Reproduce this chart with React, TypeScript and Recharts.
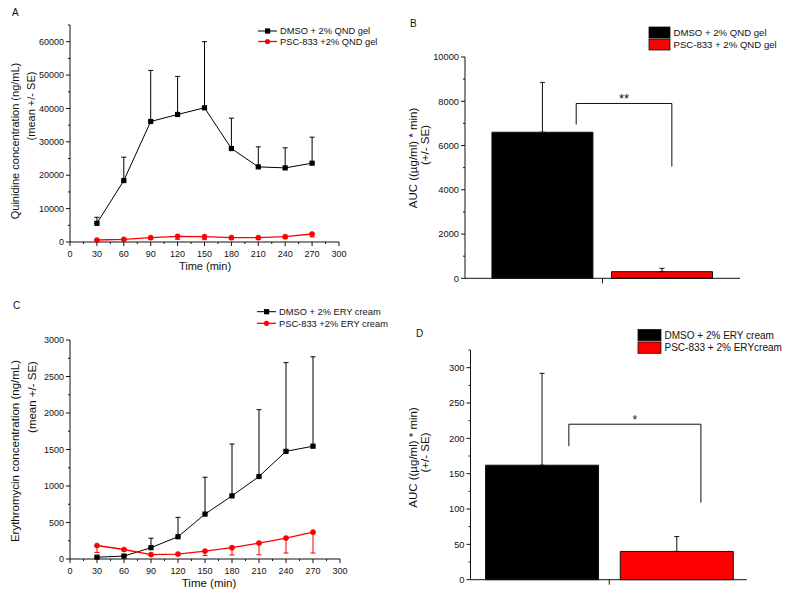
import { Bar, BarChart, Cell, ErrorBar, Label, Line, LineChart, ReferenceLine, XAxis, YAxis } from "recharts";

const FONT = "Arial, 'Liberation Sans', Helvetica, sans-serif";
const INK = "#111111";
const RED = "#ff0000";

// time-course sampling points (min)
const TIME = [30, 60, 90, 120, 150, 180, 210, 240, 270];

// A: quinidine (ng/mL), mean and SE
const QND_DMSO = [5600, 18400, 36100, 38200, 40200, 28000, 22500, 22200, 23600];
const QND_DMSO_SE = [1800, 7000, 15300, 11400, 19800, 9100, 6000, 6000, 7800];
const QND_PSC = [600, 800, 1300, 1700, 1600, 1300, 1300, 1600, 2400];
const QND_PSC_SE = [300, 300, 500, 900, 900, 500, 500, 600, 900];
const QND_LINE_NAMES = ["DMSO + 2% QND gel", "PSC-833 +2% QND gel"];

// C: erythromycin (ng/mL), mean and SE
const ERY_DMSO = [25, 40, 155, 305, 615, 865, 1130, 1475, 1545];
const ERY_DMSO_SE = [10, 10, 130, 265, 505, 710, 915, 1215, 1225];
const ERY_PSC = [185, 130, 60, 68, 108, 155, 218, 287, 368];
const ERY_PSC_SE = [95, 20, 10, 10, 62, 100, 160, 205, 286];
const ERY_LINE_NAMES = ["DMSO + 2% ERY cream", "PSC-833 +2% ERY cream"];

// B / D: AUC bars
const QND_GROUPS = ["DMSO + 2% QND gel", "PSC-833 + 2% QND gel"];
const QND_AUC = [6600, 300];
const QND_AUC_SE = [2250, 150];
const ERY_GROUPS = ["DMSO + 2% ERY cream", "PSC-833 + 2% ERYcream"];
const ERY_AUC = [162, 40];
const ERY_AUC_SE = [130, 21];
const BAR_FILLS = ["#000000", RED];

// significance brackets: x ends, top level, leg ends
const QND_SIG_X = [1.28, 2.08];
const QND_SIG_Y = [7900, 6950, 5050];
const ERY_SIG_X = [1.2, 2.18];
const ERY_SIG_Y = [220, 189, 109];

const range = (start: number, end: number, step: number) => {
  const out: number[] = [];
  for (let v = start; v <= end + 1e-9; v += step) out.push(v);
  return out;
};

const qndData = TIME.map((t, i) => ({
  t,
  dmso: QND_DMSO[i],
  dmsoErr: [0, QND_DMSO_SE[i]],
  psc: QND_PSC[i],
  pscErr: [QND_PSC_SE[i], 0],
}));
const eryData = TIME.map((t, i) => ({
  t,
  dmso: ERY_DMSO[i],
  dmsoErr: [0, ERY_DMSO_SE[i]],
  psc: ERY_PSC[i],
  pscErr: [ERY_PSC_SE[i], 0],
}));
const qndAuc = QND_GROUPS.map((name, i) => ({ name, pos: i + 1, auc: QND_AUC[i], err: [0, QND_AUC_SE[i]] }));
const eryAuc = ERY_GROUPS.map((name, i) => ({ name, pos: i + 1, auc: ERY_AUC[i], err: [0, ERY_AUC_SE[i]] }));

function timeTick({ x, y, payload }: any) {
  const major = payload.value % 30 === 0;
  return (
    <g>
      <line x1={x} x2={x} y1={y} y2={y + (major ? 4 : 2)} stroke={INK} />
      {major && (
        <text x={x} y={y + 14.5} textAnchor="middle" fontSize={9} fill={INK}>
          {payload.value}
        </text>
      )}
    </g>
  );
}

function valueTick(majorStep: number, fontSize: number) {
  return ({ x, y, payload }: any) => {
    const major = payload.value % majorStep === 0;
    return (
      <g>
        <line x1={x} x2={x - (major ? 4 : 2)} y1={y} y2={y} stroke={INK} />
        {major && (
          <text x={x - 6} y={y + fontSize * 0.36} textAnchor="end" fontSize={fontSize} fill={INK}>
            {payload.value}
          </text>
        )}
      </g>
    );
  };
}

function centerTick({ x, y }: any) {
  return <line x1={x} x2={x} y1={y} y2={y + 5} stroke={INK} />;
}

function yTitle(lines: { text: string; x: number; y: number }[], fontSize: number) {
  return () => (
    <g>
      {lines.map((l) => (
        <text
          key={l.text}
          transform={`translate(${l.x},${l.y}) rotate(-90)`}
          textAnchor="middle"
          dominantBaseline="central"
          fontSize={fontSize}
          fill={INK}
        >
          {l.text}
        </text>
      ))}
    </g>
  );
}

function xTitle(x: number, y: number, fontSize: number) {
  return () => (
    <text x={x} y={y} textAnchor="middle" fontSize={fontSize} fill={INK}>
      Time (min)
    </text>
  );
}

const squareDot = (p: any) => (
  <rect key={`sq-${p.index}`} x={p.cx - 2.6} y={p.cy - 2.6} width={5.2} height={5.2} fill="#000" />
);
const redDot = { r: 2.6, fill: RED, stroke: RED, strokeWidth: 0.5 };

function TimeCourse({
  data,
  width,
  height,
  margin,
  yMax,
  yStep,
  yMajor,
  titles,
  xLabel,
  titleSize,
}: any) {
  return (
    <LineChart width={width} height={height} data={data} margin={margin}>
      <XAxis
        type="number"
        dataKey="t"
        domain={[0, 300]}
        ticks={range(0, 300, 15)}
        interval={0}
        tick={timeTick}
        tickSize={0}
        tickMargin={0}
        tickLine={false}
        axisLine={{ stroke: INK }}
        height={30}
      >
        <Label content={xTitle(xLabel[0], xLabel[1], titleSize)} />
      </XAxis>
      <YAxis
        type="number"
        domain={[0, yMax]}
        ticks={range(0, yMax, yStep)}
        interval={0}
        tick={valueTick(yMajor, 9)}
        tickSize={0}
        tickMargin={0}
        tickLine={false}
        axisLine={{ stroke: INK }}
        width={60}
      >
        <Label content={yTitle(titles, titleSize)} />
      </YAxis>
      <Line dataKey="dmso" stroke="#000" strokeWidth={1} dot={squareDot} isAnimationActive={false}>
        <ErrorBar dataKey="dmsoErr" width={2.5} stroke="#000" strokeWidth={1} direction="y" />
      </Line>
      <Line dataKey="psc" stroke={RED} strokeWidth={1.3} dot={redDot} isAnimationActive={false}>
        <ErrorBar dataKey="pscErr" width={2.5} stroke={RED} strokeWidth={1} direction="y" />
      </Line>
    </LineChart>
  );
}

function AucBars({ data, width, height, margin, domain, barSize, yMax, yStep, yMajor, titles, sigX, sigY, mark, markSize }: any) {
  return (
    <BarChart width={width} height={height} data={data} margin={margin}>
      <XAxis
        type="number"
        dataKey="pos"
        domain={domain}
        ticks={[1.5]}
        tick={centerTick}
        tickSize={0}
        tickMargin={0}
        tickLine={false}
        axisLine={{ stroke: INK }}
        height={8}
        allowDataOverflow
      />
      <YAxis
        type="number"
        domain={[0, yMax]}
        ticks={range(0, yMax, yStep)}
        interval={0}
        tick={valueTick(yMajor, 9.3)}
        tickSize={0}
        tickMargin={0}
        tickLine={false}
        axisLine={{ stroke: INK }}
        width={60}
      >
        <Label content={yTitle(titles, 11.5)} />
      </YAxis>
      <Bar dataKey="auc" barSize={barSize} stroke={INK} strokeWidth={1} isAnimationActive={false}>
        {data.map((_: any, i: number) => (
          <Cell key={i} fill={BAR_FILLS[i]} />
        ))}
        <ErrorBar dataKey="err" width={2.5} stroke={INK} strokeWidth={1} direction="y" />
      </Bar>
      <ReferenceLine
        segment={[
          { x: sigX[0], y: sigY[0] },
          { x: sigX[1], y: sigY[0] },
        ]}
        stroke={INK}
        strokeWidth={1}
        ifOverflow="visible"
      >
        <Label value={mark} position="top" offset={0} fontSize={markSize} fill={INK} />
      </ReferenceLine>
      <ReferenceLine
        segment={[
          { x: sigX[0], y: sigY[0] },
          { x: sigX[0], y: sigY[1] },
        ]}
        stroke={INK}
        strokeWidth={1}
        ifOverflow="visible"
      />
      <ReferenceLine
        segment={[
          { x: sigX[1], y: sigY[0] },
          { x: sigX[1], y: sigY[2] },
        ]}
        stroke={INK}
        strokeWidth={1}
        ifOverflow="visible"
      />
    </BarChart>
  );
}

function LineLegend({ x, y, gap, names, fontSize }: any) {
  return (
    <g>
      {names.map((name: string, i: number) => {
        const cy = y + i * gap;
        return (
          <g key={name}>
            <line x1={x} x2={x + 19} y1={cy} y2={cy} stroke={i === 0 ? "#000" : RED} strokeWidth={i === 0 ? 1 : 1.3} />
            {i === 0 ? (
              <rect x={x + 7} y={cy - 2.6} width={5.2} height={5.2} fill="#000" />
            ) : (
              <circle cx={x + 9.5} cy={cy} r={2.6} fill={RED} />
            )}
            <text x={x + 22} y={cy + fontSize * 0.36} fontSize={fontSize} fill={INK}>
              {name}
            </text>
          </g>
        );
      })}
    </g>
  );
}

function BoxLegend({ x, y, w, h, gap, names, fontSize }: any) {
  return (
    <g>
      {names.map((name: string, i: number) => {
        const top = y + i * gap;
        return (
          <g key={name}>
            <rect x={x} y={top} width={w} height={h} fill={BAR_FILLS[i]} stroke={INK} strokeWidth={0.8} />
            <text x={x + w + 3.5} y={top + h / 2 + fontSize * 0.36} fontSize={fontSize} fill={INK}>
              {name}
            </text>
          </g>
        );
      })}
    </g>
  );
}

export default function App() {
  return (
    <div style={{ position: "absolute", left: 0, top: 0, width: 789, height: 595, background: "#fff", fontFamily: FONT }}>
      <div style={{ position: "absolute", left: 0, top: 0 }}>
        <TimeCourse
          data={qndData}
          width={395}
          height={290}
          margin={{ top: 25, right: 56, bottom: 18, left: 10 }}
          yMax={65000}
          yStep={5000}
          yMajor={10000}
          titles={[
            { text: "Quinidine concentration (ng/mL)", x: 15, y: 141 },
            { text: "(mean +/- SE)", x: 31, y: 106 },
          ]}
          xLabel={[205, 270]}
          titleSize={11}
        />
      </div>
      <div style={{ position: "absolute", left: 395, top: 0 }}>
        <AucBars
          data={qndAuc}
          width={394}
          height={290}
          margin={{ top: 57, right: 49, bottom: 3.7, left: 10 }}
          domain={[0.35, 2.65]}
          barSize={101}
          yMax={10000}
          yStep={1000}
          yMajor={2000}
          titles={[
            { text: "AUC ((\u00b5g/ml) * min)", x: 18.3, y: 158 },
            { text: "(+/- SE)", x: 30, y: 145 },
          ]}
          sigX={QND_SIG_X}
          sigY={QND_SIG_Y}
          mark="**"
          markSize={13}
        />
      </div>
      <div style={{ position: "absolute", left: 0, top: 290 }}>
        <TimeCourse
          data={eryData}
          width={395}
          height={305}
          margin={{ top: 50, right: 55, bottom: 6, left: 10 }}
          yMax={3000}
          yStep={250}
          yMajor={500}
          titles={[
            { text: "Erythromycin concentration (ng/mL)", x: 15, y: 161 },
            { text: "(mean +/- SE)", x: 31.5, y: 107 },
          ]}
          xLabel={[209, 297.3]}
          titleSize={11.5}
        />
      </div>
      <div style={{ position: "absolute", left: 395, top: 290 }}>
        <AucBars
          data={eryAuc}
          width={394}
          height={305}
          margin={{ top: 60, right: 42.3, bottom: 7.3, left: 15.5 }}
          domain={[0.47, 2.52]}
          barSize={113}
          yMax={325}
          yStep={25}
          yMajor={50}
          titles={[
            { text: "AUC ((\u00b5g/ml) * min)", x: 18, y: 167.5 },
            { text: "(+/- SE)", x: 30, y: 162.5 },
          ]}
          sigX={ERY_SIG_X}
          sigY={ERY_SIG_Y}
          mark="*"
          markSize={12}
        />
      </div>
      <svg
        width={789}
        height={595}
        style={{ position: "absolute", left: 0, top: 0, pointerEvents: "none", fontFamily: FONT }}
      >
        <text x={12} y={15.5} fontSize={10} fill={INK}>A</text>
        <text x={410} y={27} fontSize={10} fill={INK}>B</text>
        <text x={13} y={308.5} fontSize={10} fill={INK}>C</text>
        <text x={416} y={337} fontSize={10} fill={INK}>D</text>
        <LineLegend x={258} y={31} gap={10.5} names={QND_LINE_NAMES} fontSize={9.3} />
        <LineLegend x={257} y={311.7} gap={11.6} names={ERY_LINE_NAMES} fontSize={9.3} />
        <BoxLegend x={649} y={27} w={21} h={11} gap={12} names={QND_GROUPS} fontSize={9.6} />
        <BoxLegend x={638} y={329.5} w={23} h={11.3} gap={12.5} names={ERY_GROUPS} fontSize={10} />
      </svg>
    </div>
  );
}
